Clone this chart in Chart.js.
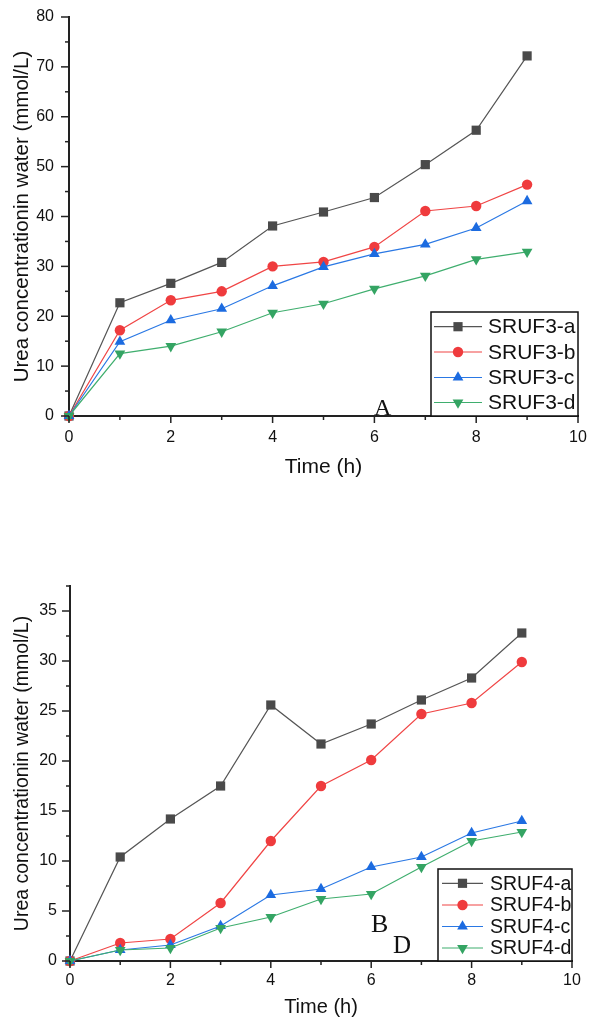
<!DOCTYPE html>
<html>
<head>
<meta charset="utf-8">
<script src="https://cdn.jsdelivr.net/npm/chart.js@4.4.1/dist/chart.umd.min.js"></script>
<style>
  body { margin: 0; background: #fff; }
  .panel { position: absolute; left: 0; width: 590px; }
</style>
</head>
<body>
<div class="panel" style="top:0;height:500px"><canvas id="canvas1"></canvas></div>
<div class="panel" style="top:500px;height:521px"><canvas id="canvas2"></canvas></div>
<script>
// time axis (h)
const hours = [0, 1, 2, 3, 4, 5, 6, 7, 8, 9];

// panel A - SRUF3
const names3 = ['SRUF3-a', 'SRUF3-b', 'SRUF3-c', 'SRUF3-d'];
const sruf3a = [0, 22.7, 26.6, 30.8, 38.1, 40.9, 43.8, 50.4, 57.3, 72.2];
const sruf3b = [0, 17.2, 23.2, 25.0, 30.0, 30.9, 33.9, 41.1, 42.1, 46.4];
const sruf3c = [0, 14.9, 19.2, 21.5, 26.1, 29.9, 32.5, 34.4, 37.7, 43.1];
const sruf3d = [0, 12.5, 14.0, 16.9, 20.7, 22.5, 25.5, 28.1, 31.4, 32.9];

// panel B - SRUF4
const names4 = ['SRUF4-a', 'SRUF4-b', 'SRUF4-c', 'SRUF4-d'];
const sruf4a = [0, 10.4, 14.2, 17.5, 25.6, 21.7, 23.7, 26.1, 28.3, 32.8];
const sruf4b = [0, 1.8, 2.2, 5.8, 12.0, 17.5, 20.1, 24.7, 25.8, 29.9];
const sruf4c = [0, 1.1, 1.6, 3.5, 6.6, 7.2, 9.4, 10.4, 12.8, 14.0];
const sruf4d = [0, 1.1, 1.3, 3.3, 4.4, 6.2, 6.7, 9.4, 12.0, 12.9];

const yTitle = 'Urea concentrationin water (mmol/L)';
const xTitle = 'Time (h)';
const sansFont = 'Arial, "Liberation Sans", sans-serif';
const serifFont = '"Times New Roman", "Liberation Serif", serif';

// marker look for the four series (a, b, c, d)
const looks = [
  { line: '#555555', fill: '#4a4a4a', pointStyle: 'rect', radius: 6.5, rotation: 0 },
  { line: '#f04545', fill: '#ef3b3d', pointStyle: 'circle', radius: 5.2, rotation: 0 },
  { line: '#2a78e4', fill: '#1c6be0', pointStyle: 'triangle', radius: 6.2, rotation: 0 },
  { line: '#3fae6e', fill: '#34a463', pointStyle: 'triangle', radius: 6.2, rotation: 180 }
];

function makeDatasets(names, series) {
  return series.map((vals, i) => ({
    label: names[i],
    data: vals.map((v, j) => ({ x: hours[j], y: v })),
    borderColor: looks[i].line,
    backgroundColor: looks[i].fill,
    pointBackgroundColor: looks[i].fill,
    pointBorderColor: looks[i].fill,
    pointBorderWidth: 0,
    pointStyle: looks[i].pointStyle,
    pointRadius: looks[i].radius,
    pointRotation: looks[i].rotation,
    borderWidth: 1.2,
    tension: 0,
    clip: false,
    order: 3 - i
  }));
}

// small outward tick marks, long for labelled ticks, short for the rest
const tickMarks = {
  id: 'tickMarks',
  afterDraw(chart) {
    const ctx = chart.ctx;
    const xs = chart.scales.x;
    const ys = chart.scales.y;
    ctx.save();
    ctx.strokeStyle = '#222';
    ctx.lineWidth = 1.5;
    xs.ticks.forEach(t => {
      const px = xs.getPixelForValue(t.value);
      const len = t.label !== '' ? 7 : 4;
      ctx.beginPath();
      ctx.moveTo(px, xs.top);
      ctx.lineTo(px, xs.top + len);
      ctx.stroke();
    });
    ys.ticks.forEach(t => {
      const py = ys.getPixelForValue(t.value);
      const len = t.label !== '' ? 8 : 4;
      ctx.beginPath();
      ctx.moveTo(ys.right, py);
      ctx.lineTo(ys.right - len, py);
      ctx.stroke();
    });
    ctx.restore();
  }
};

// boxed legend inside the plot, plus the panel letters
const boxLegend = {
  id: 'boxLegend',
  afterDraw(chart, args, opts) {
    const ctx = chart.ctx;
    ctx.save();
    ctx.fillStyle = '#fff';
    ctx.fillRect(opts.x, opts.y, opts.w, opts.h);
    ctx.strokeStyle = '#111';
    ctx.lineWidth = 1.5;
    ctx.strokeRect(opts.x, opts.y, opts.w, opts.h);
    chart.data.datasets.forEach((ds, i) => {
      const ry = opts.rows[i];
      ctx.strokeStyle = ds.borderColor;
      ctx.lineWidth = 1.2;
      ctx.beginPath();
      ctx.moveTo(opts.line1, ry);
      ctx.lineTo(opts.line2, ry);
      ctx.stroke();
      ctx.fillStyle = ds.pointBackgroundColor;
      Chart.helpers.drawPoint(ctx, {
        pointStyle: ds.pointStyle,
        radius: ds.pointRadius,
        rotation: ds.pointRotation,
        borderWidth: 0
      }, (opts.line1 + opts.line2) / 2, ry);
      ctx.fillStyle = '#111';
      ctx.font = opts.fontSize + 'px ' + sansFont;
      ctx.textBaseline = 'middle';
      ctx.textAlign = 'left';
      ctx.fillText(ds.label, opts.textX, ry + 1);
    });
    ctx.fillStyle = '#111';
    ctx.textBaseline = 'alphabetic';
    ctx.textAlign = 'left';
    (opts.letters || []).forEach(l => {
      ctx.font = l.size + 'px ' + serifFont;
      ctx.fillText(l.text, l.x, l.y);
    });
    ctx.restore();
  }
};

function buildChart(canvas, names, series, p) {
  return new Chart(canvas, {
    type: 'line',
    data: { datasets: makeDatasets(names, series) },
    plugins: [tickMarks, boxLegend],
    options: {
      animation: false,
      responsive: true,
      maintainAspectRatio: false,
      layout: { padding: { left: 0, right: p.padRight, top: p.padTop, bottom: 0 } },
      plugins: {
        legend: { display: false },
        tooltip: { enabled: false },
        boxLegend: p.legend
      },
      scales: {
        x: {
          type: 'linear',
          min: 0,
          max: 10,
          afterFit(scale) { scale.height = p.xHeight; scale.paddingLeft = 0; scale.paddingRight = 0; },
          grid: { display: false, drawTicks: false },
          border: { display: true, color: '#222', width: 2 },
          ticks: {
            stepSize: 1,
            autoSkip: false,
            maxRotation: 0,
            padding: p.xTickPad,
            color: '#111',
            font: { family: sansFont, size: p.tickSize },
            callback: v => (v % 2 === 0 ? v : '')
          },
          title: {
            display: true,
            text: xTitle,
            color: '#111',
            font: { family: sansFont, size: p.xTitleSize },
            padding: { top: 0, bottom: p.xTitlePad }
          }
        },
        y: {
          type: 'linear',
          min: 0,
          max: p.yMax,
          afterFit(scale) { scale.width = p.yWidth; scale.paddingTop = 0; scale.paddingBottom = 0; },
          grid: { display: false, drawTicks: false },
          border: { display: true, color: '#222', width: 2 },
          ticks: {
            stepSize: p.yStep,
            autoSkip: false,
            padding: p.yTickPad,
            color: '#111',
            font: { family: sansFont, size: p.tickSize },
            callback: v => (v % p.yLabelStep === 0 ? v : '')
          },
          title: {
            display: true,
            text: yTitle,
            color: '#111',
            font: { family: sansFont, size: p.yTitleSize },
            padding: { top: p.yTitlePad, bottom: 0 }
          }
        }
      }
    }
  });
}

buildChart(document.getElementById('canvas1'), names3, [sruf3a, sruf3b, sruf3c, sruf3d], {
  padRight: 12, padTop: 17, xHeight: 84, yWidth: 69,
  yMax: 80, yStep: 5, yLabelStep: 10,
  tickSize: 16, xTickPad: 12, yTickPad: 15,
  xTitleSize: 21, xTitlePad: 20, yTitleSize: 20.5, yTitlePad: 10,
  legend: {
    x: 431, y: 312, w: 147, h: 104,
    rows: [326.7, 352, 377.5, 402.5],
    line1: 434, line2: 482, textX: 488, fontSize: 21,
    letters: [{ text: 'A', x: 374, y: 415, size: 24 }]
  }
});

buildChart(document.getElementById('canvas2'), names4, [sruf4a, sruf4b, sruf4c, sruf4d], {
  padRight: 18, padTop: 86, xHeight: 60, yWidth: 70,
  yMax: 37.5, yStep: 2.5, yLabelStep: 5,
  tickSize: 16, xTickPad: 10, yTickPad: 13,
  xTitleSize: 20, xTitlePad: 1.5, yTitleSize: 19.5, yTitlePad: 11,
  legend: {
    x: 438, y: 369, w: 134, h: 92,
    rows: [383.3, 405, 426.5, 448],
    line1: 442, line2: 483, textX: 490, fontSize: 19.5,
    letters: [
      { text: 'B', x: 371, y: 431.5, size: 26 },
      { text: 'D', x: 393, y: 453.3, size: 25 }
    ]
  }
});
</script>
</body>
</html>
